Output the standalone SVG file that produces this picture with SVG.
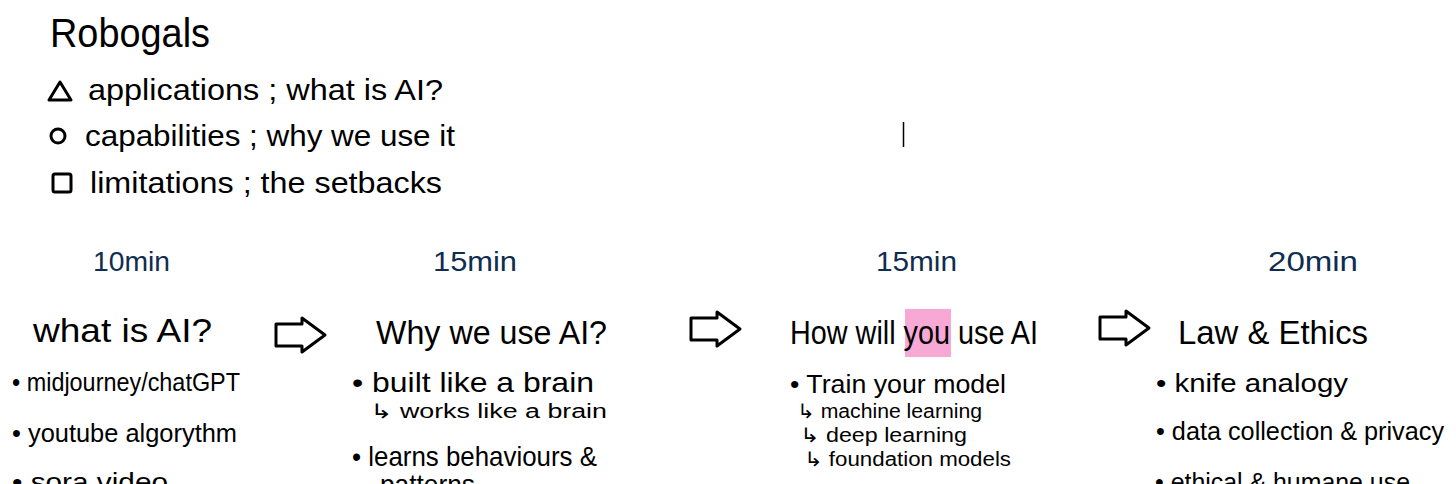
<svg xmlns="http://www.w3.org/2000/svg" width="1456" height="484" viewBox="0 0 1456 484">
<style>
.t{font-family:"Liberation Sans","DejaVu Sans",sans-serif;fill:#000}
.time{font-family:"Liberation Sans",sans-serif;fill:#0f2d4f;font-size:28px}
.h{font-size:34px}
.b{font-size:25px}
.s{font-size:20px}
.sym{fill:none;stroke:#000;stroke-width:3;stroke-linejoin:round}
.arrow{fill:#fff;stroke:#000;stroke-width:3;stroke-linejoin:round}
</style>
<defs>
<path id="blockArrow" d="M0,6 L26,6 L26,0 L49,17 L26,34 L26,28 L0,28 Z"/>
</defs>
<rect width="1456" height="484" fill="#fff"/>

<g id="header">
<text class="t" x="50" y="47" font-size="40" textLength="160" lengthAdjust="spacingAndGlyphs">Robogals</text>
<path class="sym" d="M49,100 L60,82 L71,100 Z"/>
<text class="t" x="88" y="100" font-size="30" textLength="355" lengthAdjust="spacingAndGlyphs">applications ; what is AI?</text>
<circle class="sym" cx="58" cy="136" r="7"/>
<text class="t" x="85" y="146" font-size="30" textLength="370" lengthAdjust="spacingAndGlyphs">capabilities ; why we use it</text>
<rect class="sym" x="53" y="174" width="18" height="18" rx="2"/>
<text class="t" x="90" y="193" font-size="30" textLength="352" lengthAdjust="spacingAndGlyphs">limitations ; the setbacks</text>
<line x1="903.500" y1="122" x2="903.500" y2="147" stroke="#000" stroke-width="1.500"/>
</g>

<g id="node-what-is-ai">
<text class="time" x="93" y="271" textLength="77" lengthAdjust="spacingAndGlyphs">10min</text>
<text class="t h" x="33" y="342" textLength="179" lengthAdjust="spacingAndGlyphs">what is AI?</text>
<text class="t b" x="12" y="391" textLength="228" lengthAdjust="spacingAndGlyphs">• midjourney/chatGPT</text>
<text class="t b" x="12" y="442" textLength="225" lengthAdjust="spacingAndGlyphs">• youtube algorythm</text>
<text class="t b" x="12" y="491" textLength="156" lengthAdjust="spacingAndGlyphs">• sora video</text>
</g>

<g id="node-why-use-ai">
<text class="time" x="433" y="271" textLength="84" lengthAdjust="spacingAndGlyphs">15min</text>
<text class="t h" x="376" y="344" textLength="231" lengthAdjust="spacingAndGlyphs">Why we use AI?</text>
<text class="t" x="352" y="392" font-size="28" textLength="242" lengthAdjust="spacingAndGlyphs">• built like a brain</text>
<text class="t s" x="370" y="418" textLength="237" lengthAdjust="spacingAndGlyphs">↳ works like a brain</text>
<text class="t" x="352" y="466" font-size="28" textLength="245" lengthAdjust="spacingAndGlyphs">• learns behaviours &amp;</text>
<text class="t" x="380" y="494" font-size="28" textLength="95" lengthAdjust="spacingAndGlyphs">patterns</text>
</g>

<g id="node-how-use-ai">
<rect x="905" y="309" width="46" height="48" fill="#f7a8d5"/>
<text class="time" x="876" y="271" textLength="81" lengthAdjust="spacingAndGlyphs">15min</text>
<text class="t h" x="790" y="344" textLength="248" lengthAdjust="spacingAndGlyphs">How will you use AI</text>
<text class="t b" x="790" y="393" textLength="216" lengthAdjust="spacingAndGlyphs">• Train your model</text>
<text class="t s" x="797" y="418" textLength="185" lengthAdjust="spacingAndGlyphs">↳ machine learning</text>
<text class="t s" x="800" y="442" textLength="167" lengthAdjust="spacingAndGlyphs">↳ deep learning</text>
<text class="t s" x="804" y="466" textLength="207" lengthAdjust="spacingAndGlyphs">↳ foundation models</text>
</g>

<g id="node-law-ethics">
<text class="time" x="1268" y="271" textLength="90" lengthAdjust="spacingAndGlyphs">20min</text>
<text class="t h" x="1178" y="344" textLength="190" lengthAdjust="spacingAndGlyphs">Law &amp; Ethics</text>
<text class="t b" x="1156" y="392" textLength="192" lengthAdjust="spacingAndGlyphs">• knife analogy</text>
<text class="t b" x="1156" y="440" textLength="288" lengthAdjust="spacingAndGlyphs">• data collection &amp; privacy</text>
<text class="t b" x="1155" y="491" textLength="255" lengthAdjust="spacingAndGlyphs">• ethical &amp; humane use</text>
</g>

<g id="connectors">
<use href="#blockArrow" class="arrow" x="276" y="318"/>
<use href="#blockArrow" class="arrow" x="691" y="312"/>
<use href="#blockArrow" class="arrow" x="1100" y="311"/>
</g>
</svg>
